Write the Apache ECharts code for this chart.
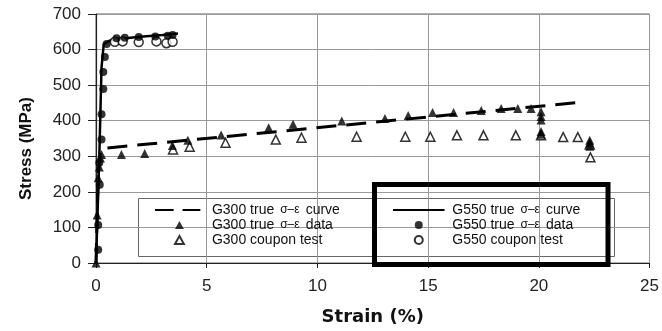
<!DOCTYPE html>
<html>
<head>
<meta charset="utf-8">
<script src="https://cdn.jsdelivr.net/npm/echarts@6/dist/echarts.min.js"></script>
<style>
  html, body { margin: 0; padding: 0; background: #fff; }
  #chart { width: 662px; height: 331px; }
</style>
</head>
<body>
<div id="chart"></div>
<script>
// strain (%) , stress (MPa) pairs
const g300Curve = [[0, 0], [0.1, 250], [0.2, 310], [0.3, 322], [21.9, 452]];
const g550Curve = [[0, 0], [0.15, 300], [0.25, 550], [0.35, 615], [0.6, 625], [1.0, 630], [2.0, 636], [3.0, 641], [3.7, 645]];

const g300Data = [
  [0, 0], [0.05, 135], [0.1, 240], [0.15, 270], [0.2, 295], [0.25, 305],
  [1.15, 305], [2.2, 308], [3.45, 330], [4.15, 345], [5.65, 360], [7.8, 380],
  [8.9, 390], [11.1, 399], [13.05, 406], [14.1, 415], [15.2, 423], [16.15, 423],
  [17.4, 429], [18.3, 434], [19.05, 434], [19.65, 434],
  [20.1, 425], [20.1, 412], [20.1, 402], [20.1, 370], [20.1, 362],
  [22.3, 345], [22.3, 337], [22.3, 328]
];
const g300Coupon = [
  [3.48, 319], [4.23, 327], [5.85, 338], [8.12, 347], [9.28, 352], [11.77, 355],
  [13.97, 355], [15.1, 355], [16.3, 359], [17.5, 359], [18.96, 359], [20.1, 359],
  [21.1, 354], [21.76, 354], [22.3, 333], [22.33, 297]
];
const g550Data = [
  [0.1, 37], [0.1, 107], [0.17, 220], [0.15, 282], [0.25, 347], [0.25, 418],
  [0.33, 489], [0.33, 537], [0.4, 579], [0.48, 616], [0.93, 632], [1.3, 633],
  [1.93, 635], [2.68, 637], [3.24, 639], [3.46, 641]
];
const g550Coupon = [[0.85, 622], [1.2, 623], [1.93, 621], [2.73, 623], [3.18, 618], [3.46, 622]];

const names = [
  'G300 true σ–ε curve', 'G300 true σ–ε data', 'G300 coupon test',
  'G550 true σ–ε curve', 'G550 true σ–ε data', 'G550 coupon test'
];

const FONT = 'Liberation Sans, Arial, sans-serif';
const legendText = {
  fontFamily: FONT,
  fontSize: 14,
  color: '#111',
  rich: { s: { fontSize: 12, color: '#111', fontFamily: FONT, padding: [0, 6, 0, 6] } }
};
const fmt = (n) => n.replace(' σ–ε ', '{s|σ–ε}');

// legend icons: bounding box padded to the icon size so they are not stretched
const dashIcon = 'path://M0,0 M55,9 M0,3.3 H21 V5.7 H0 Z M31,3.3 H51 V5.7 H31 Z';
const lineIcon = 'path://M0,0 M57,9 M0,3.5 H58 V5.5 H0 Z';
const triIcon = 'path://M5,0 L10,9 L0,9 Z';

const option = {
  animation: false,
  backgroundColor: '#fff',
  grid: { left: 96, right: 10, top: 14, bottom: 68, show: true, borderColor: '#666', borderWidth: 1 },
  xAxis: {
    type: 'value', min: 0, max: 25, interval: 5,
    name: 'Strain (%)', nameLocation: 'middle', nameGap: 45,
    nameTextStyle: { fontSize: 18, fontWeight: 'bold', color: '#111', fontFamily: 'DejaVu Sans, sans-serif' },
    axisLine: { lineStyle: { color: '#222', width: 1.2 } },
    axisTick: { show: true, length: 5, lineStyle: { color: '#222' } },
    axisLabel: { fontSize: 17, color: '#222', margin: 15, fontFamily: FONT },
    splitLine: { show: true, lineStyle: { color: '#999', width: 1 } }
  },
  yAxis: {
    type: 'value', min: 0, max: 700, interval: 100,
    name: 'Stress (MPa)', nameLocation: 'middle', nameGap: 61,
    nameTextStyle: { fontSize: 17, fontWeight: 'bold', color: '#111', fontFamily: FONT, padding: [0, 20, 0, 0] },
    axisLine: { lineStyle: { color: '#222', width: 1.2 } },
    axisTick: { show: true, length: 8, lineStyle: { color: '#222' } },
    axisLabel: { fontSize: 17, color: '#222', margin: 15, fontFamily: FONT },
    splitLine: { show: true, lineStyle: { color: '#999', width: 1 } }
  },
  legend: [
    {
      orient: 'vertical', left: 150, top: 198, itemWidth: 55, itemHeight: 8, itemGap: 1,
      data: [
        { name: names[0], icon: dashIcon },
        { name: names[1], icon: triIcon },
        { name: names[2], icon: triIcon }
      ],
      formatter: fmt, textStyle: legendText, selectedMode: false
    },
    {
      orient: 'vertical', left: 388, top: 198, itemWidth: 57, itemHeight: 8, itemGap: 1,
      data: [
        { name: names[3], icon: lineIcon },
        { name: names[4], icon: 'circle' },
        { name: names[5], icon: 'circle' }
      ],
      formatter: fmt, textStyle: legendText, selectedMode: false
    }
  ],
  graphic: [
    {
      type: 'rect', z: 0, silent: true,
      shape: { x: 138.5, y: 198.5, width: 476, height: 58 },
      style: { fill: '#fff', stroke: '#666', lineWidth: 1 }
    },
    {
      type: 'rect', z: 100, silent: true,
      shape: { x: 374.5, y: 184.5, width: 233.5, height: 80 },
      style: { fill: 'none', stroke: '#000', lineWidth: 5 }
    }
  ],
  series: [
    {
      name: names[0], type: 'line', data: g300Curve, symbol: 'none',
      itemStyle: { color: '#000' },
      lineStyle: { color: '#000', width: 3, type: [20, 10] }, z: 2
    },
    {
      name: names[1], type: 'scatter', data: g300Data, symbol: 'triangle', symbolSize: 9,
      itemStyle: { color: '#000' }, z: 4
    },
    {
      name: names[2], type: 'scatter', data: g300Coupon, symbol: 'triangle', symbolSize: 9,
      itemStyle: { color: '#fff', borderColor: '#000', borderWidth: 1.5 }, z: 3
    },
    {
      name: names[3], type: 'line', data: g550Curve, symbol: 'none',
      itemStyle: { color: '#000' },
      lineStyle: { color: '#000', width: 2.5 }, z: 2
    },
    {
      name: names[4], type: 'scatter', data: g550Data, symbol: 'circle', symbolSize: 8,
      itemStyle: { color: '#000' }, z: 4
    },
    {
      name: names[5], type: 'scatter', data: g550Coupon, symbol: 'circle', symbolSize: 9,
      itemStyle: { color: '#fff', borderColor: '#000', borderWidth: 1.5 }, z: 3
    }
  ]
};

const chart = echarts.init(document.getElementById('chart'));
chart.setOption(option);
</script>
</body>
</html>
